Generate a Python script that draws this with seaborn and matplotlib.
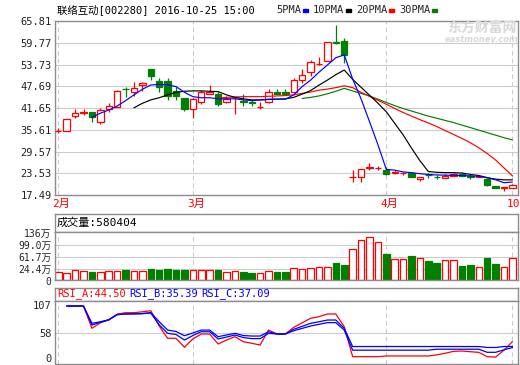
import numpy as np
import pandas as pd
import seaborn as sns
import matplotlib.pyplot as plt
from matplotlib.patches import Rectangle
from matplotlib.transforms import ScaledTranslation

# daily candles (Feb-Apr 2016, trading resumed 2016-10-25)
opens = [35.2, 35.4, 39.3, 40.4, 40.5, 37.85, 41.3, 42.0, 46.9, 46.1,
         48.1, 52.4, 49.1, 49.1, 46.3, 44.4, 41.5, 43.4, 45.6, 45.5,
         43.2, 44.7, 43.5, 43.2, 41.9, 43.4, 46.2, 46.2, 46.2, 49.3,
         51.7, 53.8, 54.8, 59.9, 60.3, 22.5, 22.6, 25.0, 25.0, 24.5,
         23.6, 23.5, 23.5, 22.0, 23.05, 22.55, 22.3, 22.9, 23.4, 22.65,
         22.6, 21.9, 20.0, 19.3, 19.5]
highs = [36.0, 38.5, 41.3, 41.4, 40.5, 41.6, 43.1, 46.65, 47.6, 49.0,
         49.0, 52.4, 50.1, 49.9, 47.5, 44.4, 44.5, 46.6, 48.0, 46.0,
         45.0, 45.1, 45.4, 44.1, 43.4, 46.8, 46.8, 46.8, 49.9, 52.4,
         55.1, 55.7, 59.9, 64.7, 61.2, 24.4, 24.6, 26.3, 25.6, 25.2,
         24.4, 24.0, 23.8, 22.6, 23.5, 23.0, 23.4, 23.6, 23.5, 23.2,
         23.0, 22.3, 20.1, 19.6, 20.5]
lows = [34.6, 35.4, 38.9, 39.7, 37.85, 37.1, 40.6, 42.0, 44.8, 45.1,
        46.45, 49.5, 46.2, 43.9, 43.9, 40.8, 38.8, 42.8, 45.4, 42.1,
        43.0, 39.9, 42.1, 42.3, 41.3, 43.1, 45.4, 45.4, 46.2, 48.5,
        50.5, 53.6, 54.8, 59.4, 54.2, 21.2, 21.1, 24.4, 24.4, 23.0,
        23.2, 23.1, 22.4, 21.5, 22.3, 21.85, 22.3, 22.8, 22.9, 21.85,
        22.4, 20.0, 19.3, 18.6, 19.3]
closes = [35.3, 38.5, 40.2, 40.5, 39.05, 41.0, 42.1, 46.3, 46.8, 47.3,
          48.6, 50.4, 47.6, 45.0, 45.1, 41.3, 44.1, 46.1, 46.2, 42.7,
          44.2, 44.8, 43.4, 43.1, 42.0, 46.2, 45.6, 45.6, 49.3, 50.7,
          54.3, 54.0, 59.9, 59.7, 56.4, 22.6, 24.6, 25.2, 25.1, 23.4,
          23.8, 23.6, 22.6, 22.6, 23.0, 22.5, 22.8, 23.4, 22.9, 22.6,
          22.7, 20.3, 19.3, 19.6, 20.3]
# volume, 万股
volumes = [15.0, 11.9, 21.2, 18.1, 16.0, 15.0, 18.1, 18.1, 22.2, 18.1,
           18.1, 25.3, 22.2, 25.3, 22.2, 22.2, 22.2, 21.2, 21.2, 22.2,
           16.0, 18.1, 16.0, 14.0, 12.9, 18.1, 16.0, 16.0, 27.4, 24.3,
           27.4, 30.5, 30.5, 43.9, 37.7, 86.3, 114.2, 124.5, 108.0, 71.8,
           55.3, 55.3, 65.6, 58.4, 50.1, 43.9, 52.2, 52.2, 34.6, 37.7,
           30.5, 59.4, 40.8, 30.5, 58.04]

# moving averages
ma5_start, ma10_start, ma20_start, ma30_start = 4, 9, 19, 29
ma5 = [39.07, 40.2, 41.1, 42.2, 43.7, 45.3, 46.85, 48.05, 48.2, 48.1,
       47.6, 46.0, 44.8, 44.5, 44.5, 44.2, 44.2, 44.2, 43.9, 43.7,
       43.9, 44.1, 44.1, 44.1, 45.3, 47.6, 49.4, 51.6, 53.6, 55.6,
       56.4, 49.7, 44.2, 37.9, 31.5, 24.6, 24.4, 23.9, 23.7, 23.4,
       23.2, 23.05, 23.0, 22.95, 22.9, 22.8, 22.7, 22.3, 21.7, 20.9,
       21.1]
ma10 = [41.7, 42.95, 43.9, 44.5, 45.3, 46.0, 46.3, 46.4, 46.4, 46.3,
        46.2, 45.3, 44.6, 44.2, 43.9, 43.9, 44.0, 44.1, 44.2, 44.6,
        45.5, 46.5, 48.0, 49.4, 50.9, 52.2, 49.6, 47.4, 45.2, 43.0,
        40.6, 37.4, 34.2, 30.5, 27.0, 24.0, 23.8, 23.7, 23.7, 23.6,
        23.2, 22.9, 22.3, 21.9, 21.7, 21.7]
ma20 = [44.4, 44.6, 44.7, 44.8, 44.8, 44.8, 44.9, 45.0, 45.1, 45.3,
        45.7, 46.1, 46.6, 46.9, 47.3, 47.8, 47.3, 46.0, 44.9, 43.8,
        42.7, 41.5, 40.4, 39.4, 38.4, 37.5, 36.5, 35.4, 34.3, 33.2,
        32.0, 30.6, 29.0, 27.2, 25.0, 22.8]
ma30 = [44.3, 44.6, 45.0, 45.6, 46.3, 47.1, 46.4, 45.7, 45.0, 44.1,
        43.2, 42.3, 41.5, 40.8, 40.1, 39.4, 38.8, 38.2, 37.6, 36.9,
        36.2, 35.5, 34.8, 34.1, 33.4, 32.8]

# RSI, starting at the second candle
rsi_start = 1
rsi_a = [100, 100, 100, 65.3, 73.9, 78.5, 87.4, 89.6, 89.6, 91.0,
         92.7, 68.9, 49.8, 49.8, 35.8, 48.8, 56.5, 56.5, 40.9, 47.1,
         52.3, 44.5, 42.0, 39.3, 62.6, 56.5, 56.5, 66.9, 73.9, 80.9,
         83.4, 87.6, 87.6, 67.8, 21.2, 21.2, 21.2, 21.2, 22.3, 22.3,
         22.3, 22.3, 22.3, 22.3, 24.0, 26.5, 29.5, 30.0, 28.9, 27.9,
         21.2, 20.5, 31.5, 44.5]
rsi_b = [100, 100, 100, 70.4, 74.7, 78.3, 86.6, 87.6, 87.8, 88.2,
         89.0, 70.7, 57.5, 55.7, 47.1, 54.1, 60.0, 60.0, 48.7, 51.7,
         54.9, 50.9, 49.3, 49.2, 57.5, 56.5, 56.5, 61.6, 65.2, 68.9,
         71.5, 74.1, 74.1, 62.6, 31.3, 31.3, 31.3, 31.3, 31.3, 31.3,
         31.3, 31.3, 31.3, 31.3, 32.8, 32.8, 32.8, 32.8, 32.8, 32.8,
         28.0, 28.0, 31.9, 35.39]
rsi_c = [100, 100, 100, 73.1, 75.5, 78.7, 86.6, 87.6, 87.8, 88.2,
         89.8, 75.5, 62.6, 60.4, 53.8, 58.0, 62.6, 62.6, 52.3, 54.9,
         57.5, 54.1, 53.3, 53.3, 60.0, 56.5, 56.5, 63.8, 68.4, 73.1,
         75.5, 78.2, 78.2, 65.3, 37.0, 37.0, 37.0, 37.0, 37.0, 37.0,
         37.0, 37.0, 37.0, 37.0, 37.0, 37.0, 37.0, 37.0, 37.0, 37.0,
         35.5, 35.5, 37.0, 37.09]

price_ticks = [17.49, 23.53, 29.57, 35.61, 41.65, 47.69, 53.73, 59.77, 65.81]
vol_ticks = [0, 24.4, 61.7, 99.0, 136]
vol_labels = ['0', '24.4万', '61.7万', '99.0万', '136万']
rsi_ticks = [9.8, 58, 107.8]
rsi_labels = ['0', '58', '107']
month_idx = [0, 16, 39, 54]
month_labels = ['2月', '3月', '4月', '10']

RED, GREEN, BLUE = '#ff0000', '#008000', '#0000ff'
GRID, FRAME = '#cccccc', '#8c8c8c'
W, H = 520, 365

sns.set_theme(style='white')
plt.rcParams['font.family'] = ['DejaVu Sans Mono', 'Noto Sans CJK SC']
plt.rcParams['font.size'] = 7.5

fig = plt.figure(figsize=(W / 100, H / 100), dpi=100)
fig.patch.set_facecolor('white')


def px_axes(left, top, right, bottom):
    return fig.add_axes([left / W, 1 - bottom / H, (right - left) / W, (bottom - top) / H])


def frame(ax):
    for s in ax.spines.values():
        s.set_visible(True)
        s.set_color(FRAME)
        s.set_linewidth(1)
    ax.set_facecolor('white')
    ax.tick_params(length=0, pad=2.5, labelsize=7.5)


ax_p = px_axes(55, 21, 518, 195)
ax_vh = px_axes(55, 214, 518, 232)
ax_v = px_axes(55, 232, 518, 280)
ax_rh = px_axes(55, 288, 518, 301)
ax_r = px_axes(55, 301, 518, 364)

n = len(closes)
idx = np.arange(n)
xlim = (-0.39, 54.66)

# ---- price panel
frame(ax_p)
for t in price_ticks[1:-1]:
    ax_p.axhline(t, color=GRID, lw=0.8, zorder=0)
for m in month_idx:
    ax_p.axvline(m, color=GRID, lw=0.8, ls=(0, (4, 3)), zorder=0)

for i in idx:
    o, h, l, c = opens[i], highs[i], lows[i], closes[i]
    col = RED if c >= o else GREEN
    ax_p.vlines(i, l, h, color=col, lw=0.9, zorder=2)
    ax_p.add_patch(Rectangle((i - 0.38, min(o, c)), 0.76, max(abs(c - o), 0.06),
                             facecolor='white' if c >= o else GREEN,
                             edgecolor=col, lw=0.9, zorder=3))

for start, vals, col in [(ma30_start, ma30, GREEN), (ma20_start, ma20, RED),
                         (ma10_start, ma10, 'black'), (ma5_start, ma5, BLUE)]:
    sns.lineplot(x=np.arange(start, start + len(vals)), y=vals, ax=ax_p,
                 color=col, linewidth=0.85, zorder=4)

ax_p.set_xlim(*xlim)
ax_p.set_ylim(price_ticks[0], price_ticks[-1])
ax_p.set_yticks(price_ticks, [f'{t:.2f}' for t in price_ticks])
ax_p.set_xticks(month_idx, month_labels)
ax_p.tick_params(axis='x', colors=RED, labelcolor=RED, pad=3, labelsize=8)
ax_p.tick_params(axis='y', labelcolor='#222222')
xlbls = ax_p.get_xticklabels()
for lbl in xlbls[:-1]:
    lbl.set_transform(lbl.get_transform() + ScaledTranslation(3 / 100, 0, fig.dpi_scale_trans))
# last month label starts just left of its grid line, clipped by the frame edge
xlbls[-1].set_horizontalalignment('left')
xlbls[-1].set_transform(xlbls[-1].get_transform() + ScaledTranslation(-6 / 100, 0, fig.dpi_scale_trans))
ax_p.set_xlabel('')
ax_p.set_ylabel('')

# ---- volume header and panel
frame(ax_vh)
ax_vh.set_xticks([])
ax_vh.set_yticks([])
fig.text(57 / W, 1 - 223 / H, '成交量:580404', va='center', ha='left',
         color='black', fontsize=8, zorder=10)

frame(ax_v)
vol_floor = -8.8
for t in vol_ticks[1:-1]:
    ax_v.axhline(t, color=GRID, lw=0.8, zorder=0)
for m in month_idx:
    ax_v.axvline(m, color=GRID, lw=0.8, ls=(0, (4, 3)), zorder=0)
up = np.array(closes) >= np.array(opens)
vol = np.array(volumes)
ax_v.bar(idx, vol - vol_floor, bottom=vol_floor, width=0.78,
         color=np.where(up, 'white', GREEN), edgecolor=np.where(up, RED, GREEN),
         linewidth=0.9, zorder=2)
ax_v.set_xlim(*xlim)
ax_v.set_ylim(vol_floor, 140)
ax_v.set_xticks([])
ax_v.set_yticks(vol_ticks, vol_labels)
ax_v.tick_params(axis='y', labelsize=7)
ax_v.get_yticklabels()[0].set_verticalalignment('top')

# ---- RSI header and panel
frame(ax_rh)
ax_rh.set_xticks([])
ax_rh.set_yticks([])
for x0, txt, col in [(57, 'RSI_A:44.50', RED), (129, 'RSI_B:35.39', BLUE),
                     (201, 'RSI_C:37.09', BLUE)]:
    fig.text(x0 / W, 1 - 293.5 / H, txt, va='center', ha='left',
             color=col, fontsize=7.5, zorder=10)

frame(ax_r)
ax_r.axhline(58, color=GRID, lw=0.8, zorder=0)
for m in month_idx:
    ax_r.axvline(m, color=GRID, lw=0.8, ls=(0, (4, 3)), zorder=0)
rsi_x = np.arange(rsi_start, rsi_start + len(rsi_a))
for vals, col in [(rsi_a, RED), (rsi_b, BLUE), (rsi_c, BLUE)]:
    sns.lineplot(x=rsi_x, y=vals, ax=ax_r, color=col, linewidth=0.9, zorder=3)
ax_r.set_xlim(*xlim)
ax_r.set_ylim(9.8, 107.8)
ax_r.set_xticks([])
ax_r.set_yticks(rsi_ticks, rsi_labels)
ax_r.set_xlabel('')
ax_r.set_ylabel('')
tl = ax_r.get_yticklabels()
tl[0].set_verticalalignment('bottom')
tl[-1].set_verticalalignment('top')

# ---- title, legend, watermark
fig.text(57 / W, 1 - 10 / H, '联络互动[002280] 2016-10-25 15:00',
         va='center', ha='left', fontsize=7.5, color='black')
for x0, name, dash_x, col in [(276, '5PMA', 303, BLUE), (313, '10PMA', 346, 'black'),
                              (356, '20PMA', 389, RED), (399, '30PMA', 432, GREEN)]:
    fig.text(x0 / W, 1 - 10 / H, name, va='center', ha='left', fontsize=7.5)
    fig.add_artist(Rectangle((dash_x / W, 1 - 12 / H), 5 / W, 2.5 / H,
                             transform=fig.transFigure, color=col))

fig.text(482 / W, 1 - 28 / H, '东方财富网', ha='center', va='center',
         fontsize=10, fontweight='bold', color='#d9d9d9', zorder=0,
         family=['Noto Sans CJK SC'])
fig.text(482 / W, 1 - 40 / H, 'eastmoney.com', ha='center', va='center',
         fontsize=6, fontweight='bold', style='italic', color='#d9d9d9', zorder=0,
         family=['DejaVu Sans'])

fig.savefig('out.png', dpi=100)
